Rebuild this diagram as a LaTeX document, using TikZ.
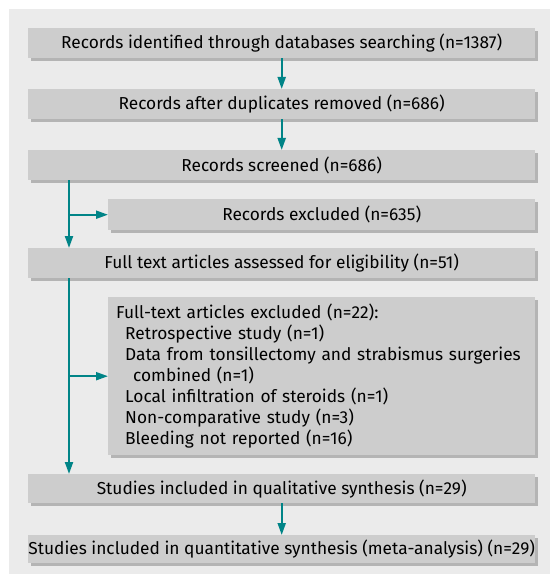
\documentclass[tikz,border=0pt]{standalone}
\usepackage{fontspec}
\setmainfont{Fira Sans}
\usetikzlibrary{arrows.meta,shadows}

\definecolor{panelgray}{HTML}{EBEBEB}
\definecolor{boxgray}{HTML}{CDCDCD}
\definecolor{shadegray}{HTML}{B4B4B4}
\definecolor{flowteal}{HTML}{008487}

\tikzset{
    stage/.style={rectangle, fill=boxgray, anchor=north west,
        general shadow={fill=shadegray, shadow xshift=3pt, shadow yshift=-3pt},
        minimum height=30pt, inner sep=0pt,
        font=\fontsize{17.3}{21}\selectfont},
    flow/.style={draw=flowteal, line width=2pt,
        -{Triangle[length=12pt,width=8pt]}},
}

\begin{document}
\begin{tikzpicture}[x=1pt,y=-1pt]
    % page and grey panel
    \useasboundingbox (0,0) rectangle (550,577);
    \fill[panelgray] (9,9) rectangle (550,574);

    % main column
    \node[stage, minimum width=507pt] (ident) at (28,28)
        {Records identified through databases searching (n=1387)};
    \node[stage, minimum width=507pt] (dedup) at (28,89)
        {Records after duplicates removed (n=686)};
    \node[stage, minimum width=507pt] (screen) at (28,150)
        {Records screened (n=686)};
    \node[stage, minimum width=427pt, minimum height=31pt] (recexcl) at (108,199)
        {Records excluded (n=635)};
    \node[stage, minimum width=507pt] (fulltext) at (28,248)
        {Full text articles assessed for eligibility (n=51)};
    \node[stage, minimum width=427pt, minimum height=158pt,
          text width=411pt, align=left, inner xsep=8pt] (ftexcl) at (108,297)
        {Full-text articles excluded (n=22):\\
         \hspace*{9pt}Retrospective study (n=1)\\
         \hspace*{9pt}Data from tonsillectomy and strabismus surgeries\\
         \hspace*{17pt}combined (n=1)\\
         \hspace*{9pt}Local infiltration of steroids (n=1)\\
         \hspace*{9pt}Non-comparative study (n=3)\\
         \hspace*{9pt}Bleeding not reported (n=16)};
    \node[stage, minimum width=507pt, minimum height=29pt] (qual) at (28,474)
        {Studies included in qualitative synthesis (n=29)};
    \node[stage, minimum width=507pt, minimum height=28pt] (quant) at (28,535)
        {Studies included in quantitative synthesis (meta-analysis) (n=29)};

    % left spine for the exclusions
    \coordinate (spine) at (69,0);

    % arrows
    \draw[flow] (ident) -- (dedup);
    \draw[flow] (dedup) -- (screen);
    \draw[flow] (screen.south -| spine) -- (fulltext.north -| spine);
    \draw[flow] (recexcl.west -| spine) -- (recexcl.west);
    \draw[flow] (fulltext.south -| spine) -- (qual.north -| spine);
    \draw[flow] (ftexcl.west -| spine) -- (ftexcl.west);
    \draw[flow] (qual) -- (quant);
\end{tikzpicture}
\end{document}
